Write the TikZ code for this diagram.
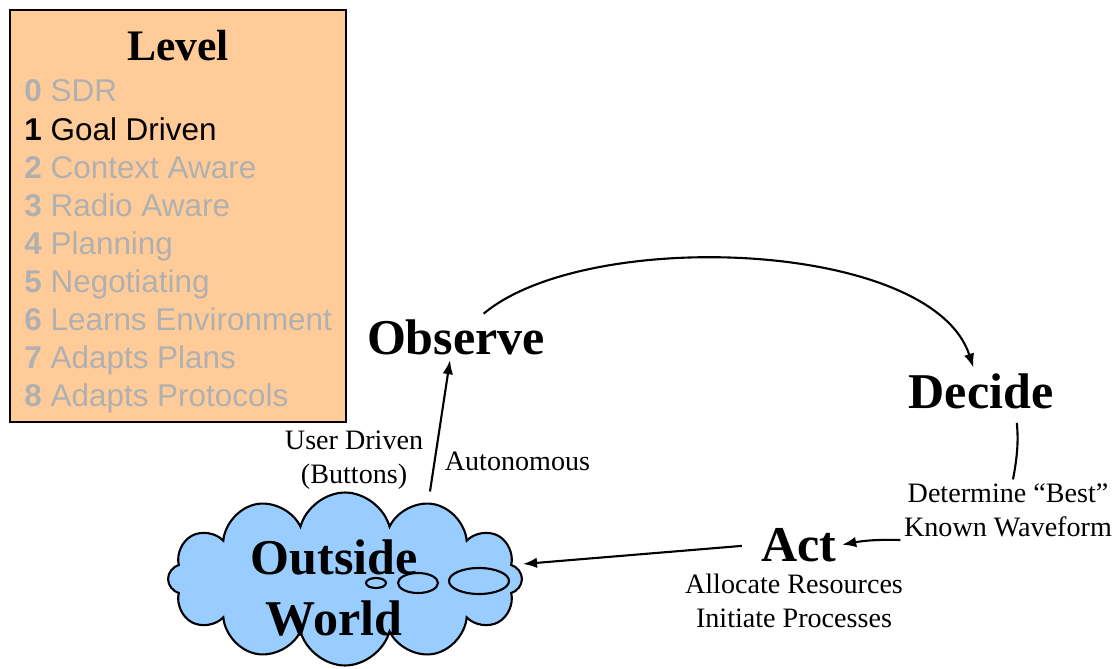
\documentclass[tikz,border=0pt]{standalone}
\usepackage{fontspec}
\setmainfont{Liberation Serif}
\newfontfamily\arialfont{Liberation Sans}
\usetikzlibrary{shapes.symbols,arrows.meta}
\definecolor{peach}{RGB}{255,204,153}
\definecolor{sky}{RGB}{153,204,255}
\definecolor{faded}{RGB}{176,176,176}
\begin{document}
\begin{tikzpicture}[x=0.02cm,y=-0.02cm,
    big/.style={font=\fontsize{28.5}{34.5}\selectfont\bfseries,inner sep=3pt},
    small/.style={font=\fontsize{16}{19.5}\selectfont,align=center,inner sep=2pt},
    item/.style={anchor=base west,inner sep=0pt,text=faded,font=\arialfont\fontsize{17.9}{21.5}\selectfont},
    arr/.style={-{Latex[length=8pt,width=6pt]},line width=1.2pt}]
    \useasboundingbox (0,0) rectangle (1119,669);
    % level list
    \node[draw=black,line width=1.3pt,fill=peach,minimum width=6.72cm,minimum height=8.24cm] (lvl) at (178,216) {};
    \node[anchor=base,inner sep=0pt,font=\fontsize{24.8}{30}\selectfont\bfseries] (title) at (178,61) {Level};
    \node[item] (L0) at (24,102) {\textbf{0} SDR};
    \node[item,text=black] (L1) at (24,140) {\textbf{1} Goal Driven};
    \node[item] (L2) at (24,178) {\textbf{2} Context Aware};
    \node[item] (L3) at (24,216) {\textbf{3} Radio Aware};
    \node[item] (L4) at (24,254) {\textbf{4} Planning};
    \node[item] (L5) at (24,292) {\textbf{5} Negotiating};
    \node[item] (L6) at (24,330) {\textbf{6} Learns Environment};
    \node[item] (L7) at (24,368) {\textbf{7} Adapts Plans};
    \node[item] (L8) at (24,406) {\textbf{8} Adapts Protocols};
    % outside world
    \node[cloud,cloud puffs=12,aspect=2,draw=black,line width=1.2pt,fill=sky,minimum width=7.08cm,minimum height=3.46cm] (cloud) at (345,579) {};
    \draw[fill=sky,line width=1.2pt] (376,583) ellipse (0.2cm and 0.1cm);
    \draw[fill=sky,line width=1.2pt] (418,583) ellipse (0.4cm and 0.2cm);
    \draw[fill=sky,line width=1.2pt] (479,581) ellipse (0.6cm and 0.26cm);
    \node[big,align=center] (world) at (334,588) {Outside\\World};
    % loop
    \node[big,anchor=base] (obs) at (456,354) {Observe};
    \node[big,anchor=base] (dec) at (981,408) {Decide};
    \node[big,anchor=base] (act) at (799,561) {Act};
    \node[small,anchor=east] (user) at (427,460) {User Driven\\(Buttons)};
    \node[small,anchor=west] (auto) at (441,461) {Autonomous};
    \node[small] (best) at (1008,510) {Determine “Best”\\Known Waveform};
    \node[small] (alloc) at (794,601) {Allocate Resources\\Initiate Processes};
    \draw[arr] ([xshift=1.7cm]cloud.north) -- ([xshift=-0.12cm]obs.south);
    \draw[arr] (obs) to[out=40,in=108,looseness=0.7] (dec);
    \draw[line width=1.2pt,shorten <=5pt] ([xshift=0.7cm]dec.south) to[bend left=8] ([xshift=0.1cm]best.north);
    \draw[arr] ([yshift=-0.6cm]best.west) to[bend right=6] (act.east);
    \draw[arr,shorten <=8pt] (act.west) -- ([yshift=0.3cm]cloud.east);
\end{tikzpicture}
\end{document}
